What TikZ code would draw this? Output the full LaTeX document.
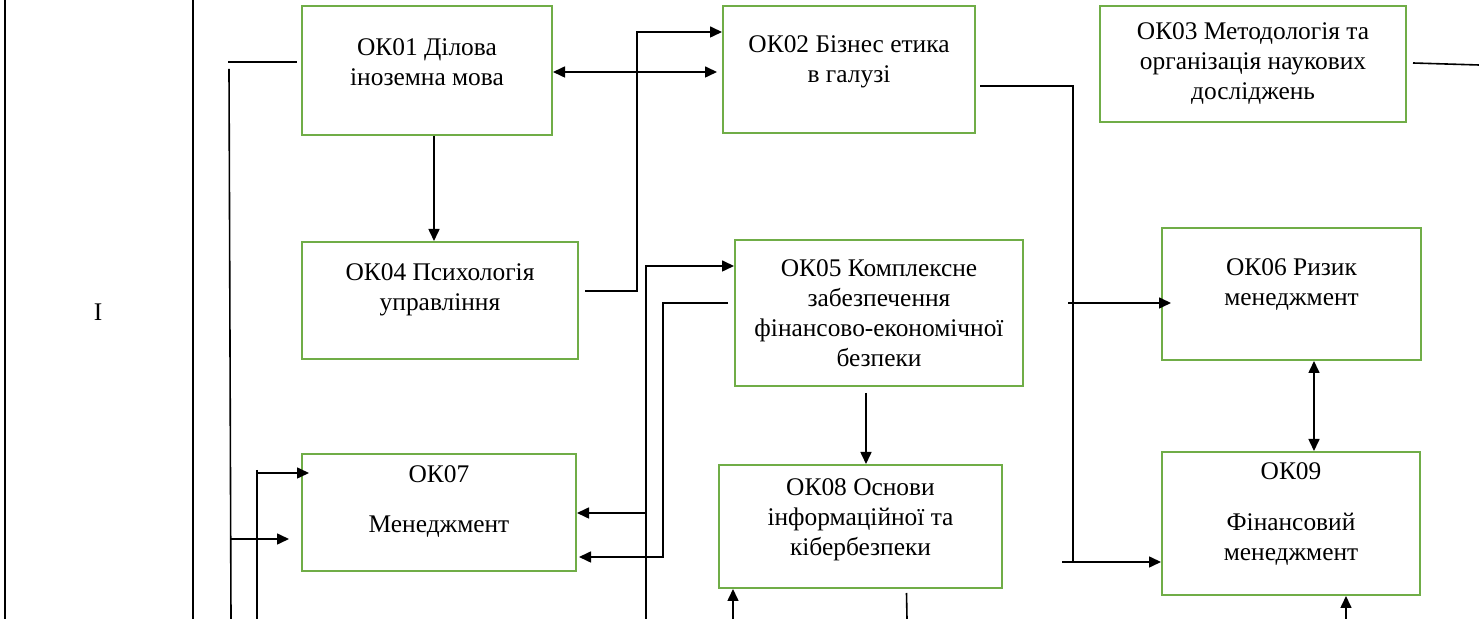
\documentclass[tikz,border=0pt]{standalone}
\usepackage{fontspec}
\setmainfont{Liberation Serif}
\usetikzlibrary{arrows.meta}
\definecolor{okgreen}{HTML}{70AD47}
\newcommand{\okfont}{\fontsize{12.7}{15}\selectfont}
\newcommand{\lift}[1]{\rule[-#1]{0pt}{#1}}
\tikzset{
    box/.style={draw=okgreen, line width=1pt, align=center, font=\okfont, inner sep=0pt},
    link/.style={line width=0.8pt},
    >={Triangle[length=6pt,width=5.5pt]}
}
\begin{document}
\begin{tikzpicture}[x=0.5pt, y=-0.5pt]
            \useasboundingbox (0, 0) rectangle (1479, 619);
            %table frame
            \draw[line width=1pt] (5, 0) -- (5, 619);
            \draw[line width=1pt] (193, 0) -- (193, 619);
            \node[font=\okfont] (sem) at (98, 312) {I};
            %boxes
            \node[box, minimum width=125pt, minimum height=64.5pt] (ok01) at (427, 70.5) {ОК01 Ділова\\іноземна мова\lift{8pt}};
            \node[box, minimum width=126pt, minimum height=63.5pt] (ok02) at (849, 69.5) {ОК02 Бізнес етика\\в галузі\lift{10pt}};
            \node[box, minimum width=153pt, minimum height=58pt] (ok03) at (1253, 64) {ОК03 Методологія та\\організація наукових\\досліджень};
            \node[box, minimum width=138pt, minimum height=58.5pt] (ok04) at (440, 300.5) {ОК04 Психологія\\управління\lift{13pt}};
            \node[box, minimum width=144pt, minimum height=73pt] (ok05) at (879, 313) {ОК05 Комплексне\\забезпечення\\фінансово-економічної\\безпеки};
            \node[box, minimum width=129.5pt, minimum height=66pt] (ok06) at (1291.5, 294) {ОК06 Ризик\\менеджмент\lift{12pt}};
            \node[box, minimum width=137pt, minimum height=58.5pt] (ok07) at (439, 512.5) {ОК07\\[10pt]Менеджмент\lift{13pt}};
            \node[box, minimum width=141.5pt, minimum height=61.5pt] (ok08) at (860.5, 526.5) {ОК08 Основи\\інформаційної та\\кібербезпеки\lift{9pt}};
            \node[box, minimum width=129pt, minimum height=71.5pt] (ok09) at (1291, 523.5) {ОК09\\[10.5pt]Фінансовий\\менеджмент\lift{12pt}};
            %free ends
            \coordinate (l1) at (228, 62);
            \coordinate (l2) at (229, 69);
            \coordinate (l3) at (257, 470);
            \coordinate (l4) at (585, 291);
            \coordinate (l5) at (646, 619);
            \coordinate (l6) at (728, 303);
            \coordinate (l7) at (980, 86);
            \coordinate (l8) at (1413, 63);
            %connectors
            \draw[link] (l1) -- ([xshift=-2pt]ok01.west |- l1);
            \draw[link] (l2) -- (231, 619);
            \draw[link, ->] (231, 539) -- ([xshift=-6pt]ok07.west |- 0, 539);
            \draw[link] (l3) -- (257, 619);
            \draw[link, ->] (l3 |- 0, 473) -- ([xshift=4pt]ok07.west |- 0, 473);
            \draw[link, ->] ([xshift=3.5pt]ok01.south) -- ([xshift=3.5pt]ok01.south |- ok04.north);
            \draw[link, <->] (ok01.east |- 0, 72) -- ([xshift=-2.5pt]ok02.west |- 0, 72);
            \draw[link, ->] (l4) -- (637, 291) -- (637, 32) -- (ok02.west |- 0, 32);
            \draw[link, ->] (l5) |- (ok05.west |- 0, 266);
            \draw[link, ->] (l5 |- 0, 513) -- (ok07.east |- 0, 513);
            \draw[link, ->] (l6) -- (663, 303) -- (663, 557) -- ([xshift=1pt]ok07.east |- 0, 557);
            \draw[link, ->] ([shift={(-13, 6)}]ok05.south) -- ([xshift=2.75pt]ok08.north);
            \draw[link] (l7) -- (1073, 86) -- (1073, 562);
            \draw[link, ->] (1068, 303) -- ([xshift=5pt]ok06.west |- 0, 303);
            \draw[link, ->] (1062, 562) -- (ok09.west |- 0, 562);
            \draw[link, <->] ([xshift=11.25pt]ok06.south) -- ([xshift=11.5pt]ok09.north);
            \draw[link, ->] (1346, 619) -- (ok09.south -| 1346, 0);
            \draw[link] (l8) -- (1479, 65);
            \draw[link] ([xshift=23pt, yshift=-2pt]ok08.south) -- (907, 619);
            \draw[link, ->] (733, 619) -- (ok08.south -| 733, 0);
\end{tikzpicture}
\end{document}
